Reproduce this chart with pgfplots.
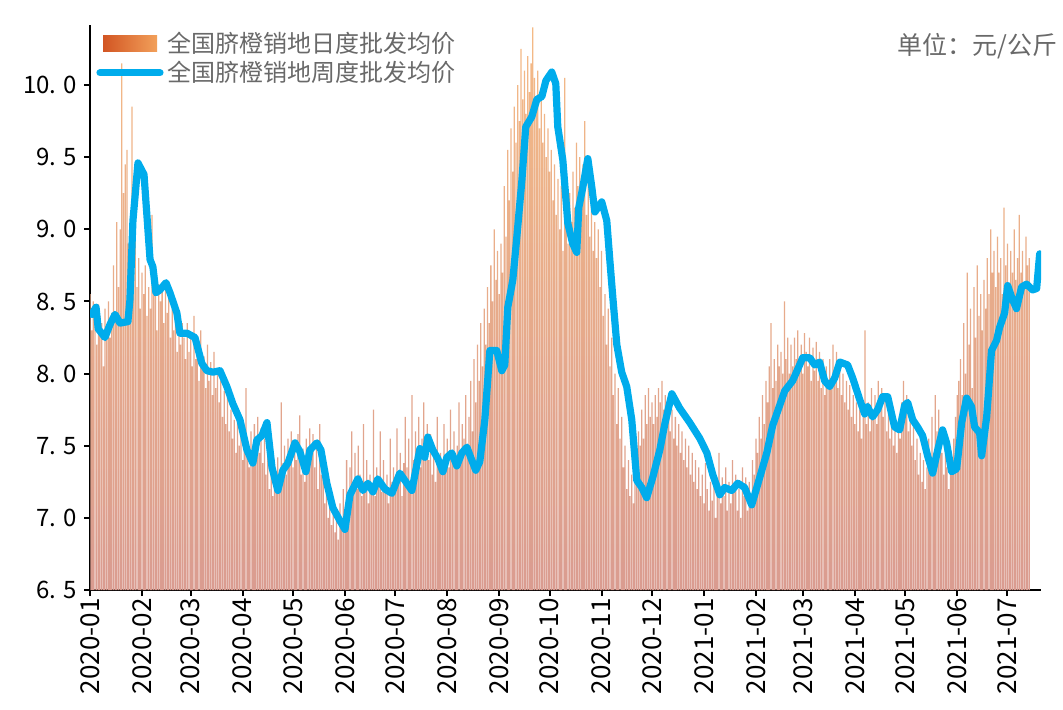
\documentclass[border=0pt]{standalone}
\usepackage{fontspec}
\setmainfont{Noto Sans CJK SC}
\usepackage{pgfplots}
\usepackage{pgfplotstable}
\pgfplotsset{compat=1.18}
\definecolor{linecol}{RGB}{0,172,236}
\definecolor{bartop}{RGB}{244,186,134}
\definecolor{barbot}{RGB}{218,156,144}
\definecolor{txtgray}{RGB}{105,105,105}
\definecolor{legA}{RGB}{210,85,35}
\definecolor{legB}{RGB}{242,160,90}

\pgfplotstableread[row sep=\\]{v\\
8.55\\ 8.30\\ 8.50\\ 8.45\\ 8.20\\ 8.48\\ 8.40\\
8.35\\ 8.05\\ 8.45\\ 8.30\\ 8.50\\ 8.25\\ 8.42\\
8.75\\ 8.40\\ 9.05\\ 8.60\\ 9.00\\ 10.15\\ 9.25\\
9.45\\ 9.55\\ 8.90\\ 8.95\\ 9.85\\ 8.70\\ 9.10\\
8.60\\ 8.80\\ 8.45\\ 8.70\\ 8.55\\ 8.75\\ 8.40\\
8.60\\ 8.45\\ 9.10\\ 8.55\\ 8.65\\ 8.30\\ 8.62\\
8.50\\ 8.58\\ 8.35\\ 8.60\\ 8.42\\ 8.55\\ 8.25\\
8.45\\ 8.30\\ 8.40\\ 8.15\\ 8.38\\ 8.20\\ 8.35\\
8.25\\ 8.10\\ 8.35\\ 8.15\\ 8.28\\ 8.05\\ 8.40\\
8.10\\ 8.20\\ 7.95\\ 8.30\\ 8.05\\ 8.12\\ 7.90\\
8.20\\ 7.95\\ 8.08\\ 7.85\\ 8.15\\ 7.90\\ 8.02\\
7.80\\ 7.95\\ 7.70\\ 7.88\\ 7.65\\ 7.92\\ 7.60\\
7.75\\ 7.55\\ 7.68\\ 7.45\\ 7.72\\ 7.50\\ 7.62\\
7.40\\ 7.58\\ 7.90\\ 7.45\\ 7.35\\ 7.60\\ 7.42\\
7.65\\ 7.50\\ 7.70\\ 7.45\\ 7.62\\ 7.38\\ 7.55\\
7.30\\ 7.48\\ 7.20\\ 7.40\\ 7.15\\ 7.35\\ 7.25\\
7.42\\ 7.28\\ 7.80\\ 7.38\\ 7.50\\ 7.30\\ 7.55\\
7.45\\ 7.60\\ 7.35\\ 7.52\\ 7.40\\ 7.58\\ 7.71\\
7.30\\ 7.48\\ 7.25\\ 7.55\\ 7.40\\ 7.62\\ 7.45\\
7.58\\ 7.35\\ 7.50\\ 7.20\\ 7.65\\ 7.30\\ 7.40\\
7.10\\ 7.25\\ 7.00\\ 7.15\\ 6.95\\ 7.08\\ 6.90\\
7.05\\ 6.85\\ 7.10\\ 6.95\\ 7.20\\ 7.05\\ 7.40\\
7.15\\ 7.35\\ 7.60\\ 7.25\\ 7.45\\ 7.20\\ 7.50\\
7.30\\ 7.15\\ 7.65\\ 7.25\\ 7.40\\ 7.10\\ 7.30\\
7.20\\ 7.75\\ 7.15\\ 7.35\\ 7.25\\ 7.60\\ 7.18\\
7.40\\ 7.22\\ 7.30\\ 7.10\\ 7.55\\ 7.25\\ 7.35\\
7.20\\ 7.62\\ 7.30\\ 7.45\\ 7.15\\ 7.38\\ 7.70\\
7.35\\ 7.55\\ 7.25\\ 7.85\\ 7.40\\ 7.60\\ 7.45\\
7.70\\ 7.35\\ 7.55\\ 7.80\\ 7.45\\ 7.65\\ 7.40\\
7.58\\ 7.30\\ 7.50\\ 7.25\\ 7.70\\ 7.35\\ 7.45\\
7.30\\ 7.65\\ 7.40\\ 7.55\\ 7.35\\ 7.75\\ 7.45\\
7.60\\ 7.35\\ 7.50\\ 7.80\\ 7.42\\ 7.65\\ 7.55\\
7.85\\ 7.50\\ 7.70\\ 7.95\\ 7.60\\ 8.10\\ 7.80\\
8.20\\ 7.95\\ 8.35\\ 8.05\\ 8.45\\ 8.20\\ 8.60\\
8.35\\ 8.75\\ 8.50\\ 9.00\\ 8.65\\ 8.85\\ 8.55\\
8.90\\ 8.70\\ 9.30\\ 8.95\\ 9.55\\ 9.20\\ 9.70\\
9.40\\ 9.85\\ 9.60\\ 10.00\\ 9.75\\ 10.25\\ 9.90\\
10.10\\ 9.80\\ 10.20\\ 9.95\\ 10.15\\ 10.40\\ 10.05\\
9.85\\ 10.10\\ 9.70\\ 9.95\\ 9.60\\ 9.80\\ 9.50\\
9.70\\ 9.40\\ 9.55\\ 9.20\\ 9.45\\ 9.10\\ 9.35\\
9.00\\ 9.30\\ 8.85\\ 10.05\\ 9.10\\ 8.90\\ 9.25\\
9.05\\ 9.40\\ 9.15\\ 9.60\\ 9.30\\ 9.50\\ 9.20\\
9.45\\ 9.75\\ 9.10\\ 9.35\\ 8.95\\ 9.20\\ 8.85\\
9.05\\ 8.80\\ 9.00\\ 8.60\\ 8.85\\ 8.40\\ 8.55\\
8.20\\ 8.45\\ 8.05\\ 8.25\\ 7.85\\ 8.00\\ 7.65\\
7.90\\ 7.55\\ 7.70\\ 7.35\\ 7.50\\ 7.20\\ 7.40\\
7.15\\ 7.30\\ 7.10\\ 7.45\\ 7.30\\ 7.60\\ 7.50\\
7.75\\ 7.55\\ 7.85\\ 7.65\\ 7.90\\ 7.70\\ 7.80\\
7.65\\ 7.85\\ 7.70\\ 7.90\\ 7.80\\ 7.95\\ 7.75\\
7.85\\ 7.70\\ 7.80\\ 7.60\\ 7.75\\ 7.55\\ 7.70\\
7.50\\ 7.65\\ 7.45\\ 7.60\\ 7.40\\ 7.55\\ 7.35\\
7.50\\ 7.30\\ 7.45\\ 7.25\\ 7.40\\ 7.20\\ 7.35\\
7.15\\ 7.30\\ 7.10\\ 7.38\\ 7.20\\ 7.05\\ 7.25\\
7.12\\ 7.30\\ 7.00\\ 7.22\\ 7.45\\ 7.10\\ 7.28\\
7.15\\ 7.35\\ 7.05\\ 7.25\\ 7.10\\ 7.40\\ 7.18\\
7.30\\ 7.05\\ 7.20\\ 7.00\\ 7.35\\ 7.15\\ 7.28\\
7.05\\ 7.25\\ 7.10\\ 7.40\\ 7.30\\ 7.55\\ 7.45\\
7.70\\ 7.55\\ 7.85\\ 7.65\\ 7.95\\ 7.80\\ 8.05\\
8.35\\ 7.90\\ 8.10\\ 7.95\\ 8.20\\ 8.05\\ 8.15\\
8.00\\ 8.50\\ 8.10\\ 8.25\\ 8.00\\ 8.20\\ 8.05\\
8.25\\ 8.10\\ 8.30\\ 8.05\\ 8.20\\ 8.00\\ 8.28\\
8.15\\ 8.05\\ 8.25\\ 7.95\\ 8.18\\ 8.02\\ 8.22\\
7.95\\ 8.15\\ 7.90\\ 8.10\\ 7.85\\ 8.05\\ 7.92\\
8.10\\ 7.95\\ 8.20\\ 8.00\\ 8.15\\ 7.90\\ 8.05\\
7.85\\ 8.00\\ 7.80\\ 7.95\\ 7.75\\ 7.92\\ 7.70\\
7.85\\ 7.65\\ 7.80\\ 7.60\\ 7.75\\ 7.55\\ 7.70\\
8.30\\ 7.65\\ 7.80\\ 7.60\\ 7.90\\ 7.70\\ 7.85\\
7.65\\ 7.95\\ 7.75\\ 7.90\\ 7.70\\ 7.85\\ 7.60\\
7.80\\ 7.55\\ 7.75\\ 7.50\\ 7.70\\ 7.45\\ 7.65\\
7.55\\ 7.80\\ 7.95\\ 7.70\\ 7.85\\ 7.60\\ 7.75\\
7.50\\ 7.65\\ 7.40\\ 7.55\\ 7.30\\ 7.45\\ 7.25\\
7.40\\ 7.20\\ 7.35\\ 7.55\\ 7.30\\ 7.70\\ 7.45\\
7.85\\ 7.60\\ 7.75\\ 7.50\\ 7.45\\ 7.30\\ 7.55\\
7.35\\ 7.20\\ 7.40\\ 7.30\\ 7.55\\ 7.70\\ 7.85\\
7.95\\ 8.10\\ 7.85\\ 8.35\\ 8.00\\ 8.70\\ 8.20\\
8.45\\ 7.90\\ 8.60\\ 8.25\\ 8.75\\ 8.40\\ 8.55\\
8.30\\ 8.65\\ 8.45\\ 8.80\\ 8.55\\ 9.00\\ 8.70\\
8.85\\ 8.60\\ 8.95\\ 8.70\\ 8.80\\ 8.55\\ 9.15\\
8.75\\ 8.90\\ 8.60\\ 8.85\\ 8.70\\ 9.00\\ 8.65\\
8.80\\ 9.10\\ 8.70\\ 8.85\\ 8.60\\ 8.95\\ 8.75\\
8.80\\
}\daily

\begin{document}
\begin{tikzpicture}
\useasboundingbox (0,0) rectangle (531.5pt,354.5pt);
\begin{axis}[
  at={(45pt,59.5pt)}, anchor=south west,
  scale only axis, width=475.5pt, height=282.5pt,
  xmin=0, xmax=567, ymin=0, ymax=3.916,
  y filter/.expression={y-6.5},
  axis x line*=bottom, axis y line*=left,
  axis line style={line width=1pt, black},
  tick align=outside, major tick length=3pt,
  tick style={line width=1pt, black},
  xtick={0,31,60,91,121,152,182,213,244,274,305,335,366,397,425,456,486,517,547},
  xticklabels={2020-01,2020-02,2020-03,2020-04,2020-05,2020-06,2020-07,2020-08,2020-09,2020-10,2020-11,2020-12,2021-01,2021-02,2021-03,2021-04,2021-05,2021-06,2021-07},
  xticklabel style={rotate=90, anchor=east, font=\fontsize{13}{13}\selectfont, inner xsep=1pt},
  ytick={0,0.5,1,1.5,2,2.5,3,3.5},
  yticklabels={6. 5,7. 0,7. 5,8. 0,8. 5,9. 0,9. 5,10. 0},
  yticklabel style={font=\fontsize{12}{12}\selectfont},
  legend style={at={(0.0,1.003)}, anchor=north west, draw=none, fill=none,
    font=\fontsize{12}{12}\selectfont, text=txtgray, row sep=-1pt,
    cells={anchor=west}},
  legend cell align=left,
]
\addplot[ybar, bar width=0.75, draw=none, top color=bartop, bottom color=barbot,
  legend image code/.code={\shade[left color=legA, right color=legB] (1.5pt,-4.2pt) rectangle (28.5pt,4.2pt);}]
  table[x expr=\coordindex, y=v]{\daily};
\addlegendentry{全国脐橙销地日度批发均价}
\addplot[linecol, line width=3.6pt, line join=round, line cap=round,
  legend image code/.code={\draw[linecol, line width=3.6pt, line cap=round] (0pt,0pt) -- (30pt,0pt);}]
  coordinates {
(1.0,8.41)(3.6,8.46)(4.9,8.31)(8.9,8.25)(11.9,8.34)(14.9,8.41)(17.9,8.35)(22.6,8.36)(23.8,8.51)(25.6,9.06)(28.6,9.46)(30.4,9.42)(32.2,9.38)(35.8,8.79)(37.5,8.74)(39.3,8.56)(41.7,8.58)(45.3,8.63)(47.7,8.56)(51.8,8.42)(53.6,8.28)(57.8,8.28)(62.6,8.25)(66.7,8.07)(69.7,8.02)(73.3,8.01)(77.5,8.02)(81.6,7.91)(85.2,7.79)(89.4,7.68)(93.6,7.47)(97.1,7.38)(99.5,7.54)(102.5,7.57)(105.5,7.66)(108.5,7.35)(112.0,7.19)(115.0,7.33)(118.0,7.38)(122.2,7.52)(125.1,7.46)(128.7,7.32)(131.1,7.47)(135.3,7.52)(137.7,7.47)(141.2,7.24)(144.8,7.07)(149.0,6.98)(152.0,6.92)(155.0,7.16)(159.7,7.27)(162.7,7.19)(165.7,7.24)(168.7,7.18)(171.6,7.27)(175.8,7.20)(180.0,7.17)(184.7,7.31)(187.7,7.26)(191.9,7.19)(196.7,7.48)(199.6,7.42)(201.4,7.56)(204.4,7.47)(207.4,7.41)(210.4,7.32)(212.8,7.42)(215.7,7.45)(218.7,7.36)(221.7,7.45)(224.7,7.49)(227.6,7.40)(230.0,7.33)(232.4,7.39)(235.4,7.68)(238.4,8.16)(242.5,8.16)(245.5,8.02)(247.3,8.06)(249.1,8.46)(252.1,8.65)(254.5,8.95)(257.5,9.34)(259.8,9.71)(263.4,9.78)(266.4,9.90)(269.4,9.92)(271.8,10.03)(275.3,10.09)(277.7,10.01)(278.9,9.71)(281.9,9.48)(284.9,9.04)(287.8,8.90)(290.2,8.84)(291.4,9.15)(293.8,9.29)(296.8,9.49)(299.2,9.29)(301.0,9.12)(305.1,9.19)(308.1,9.06)(309.9,8.79)(311.7,8.53)(314.1,8.20)(317.0,8.01)(320.0,7.91)(323.0,7.68)(326.0,7.26)(329.0,7.21)(331.9,7.14)(335.5,7.28)(339.7,7.47)(342.7,7.65)(346.9,7.86)(351.6,7.76)(357.6,7.66)(363.6,7.55)(367.8,7.45)(371.3,7.30)(375.5,7.16)(378.4,7.21)(382.6,7.19)(386.2,7.24)(390.3,7.21)(394.5,7.09)(399.3,7.28)(403.5,7.45)(407.0,7.64)(411.2,7.78)(414.2,7.88)(418.9,7.95)(423.1,8.06)(424.9,8.11)(429.1,8.11)(432.1,8.06)(435.0,8.08)(438.0,7.95)(441.0,7.91)(444.0,7.97)(447.0,8.08)(451.7,8.06)(454.7,7.97)(458.9,7.82)(461.9,7.72)(463.6,7.77)(466.6,7.70)(469.6,7.75)(472.6,7.84)(475.6,7.84)(479.7,7.63)(482.7,7.61)(485.7,7.78)(487.5,7.80)(490.5,7.68)(493.4,7.63)(496.4,7.57)(499.4,7.43)(502.4,7.31)(505.4,7.47)(508.3,7.61)(510.7,7.52)(513.7,7.32)(516.7,7.34)(519.7,7.66)(522.6,7.83)(525.6,7.77)(527.4,7.63)(530.4,7.59)(531.6,7.43)(534.6,7.70)(537.5,8.16)(540.5,8.23)(542.3,8.32)(545.3,8.42)(547.1,8.61)(550.1,8.51)(552.4,8.45)(555.4,8.60)(558.4,8.62)(562.0,8.58)(564.4,8.59)(566.2,8.83)
  };
\addlegendentry{全国脐橙销地周度批发均价}
\end{axis}
\node[anchor=east, text=txtgray, font=\fontsize{12.5}{12.5}\selectfont, inner sep=0pt] at (529pt,331.5pt) {单位：元/公斤};
\end{tikzpicture}
\end{document}
